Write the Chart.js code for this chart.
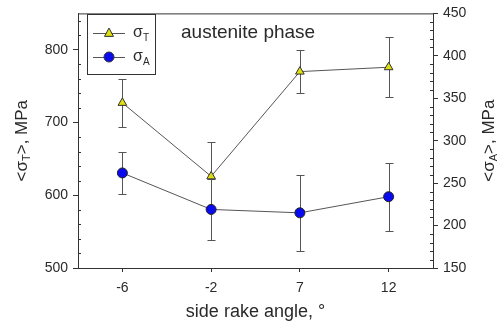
<!DOCTYPE html>
<html>
<head>
<meta charset="utf-8">
<script src="https://cdn.jsdelivr.net/npm/chart.js@4/dist/chart.umd.min.js"></script>
<style>
html,body{margin:0;padding:0;background:#fff;}
#wrap{width:498px;height:327px;}
</style>
</head>
<body>
<div id="wrap"><canvas id="c" width="498" height="327"></canvas></div>
<script>
const categories = ['-6', '-2', '7', '12'];
const sigmaT = [727, 626, 770, 776];
const sigmaTErr = [33, 47, 30, 41];
const sigmaA = [262, 219, 215, 234];
const sigmaAErr = [25, 36, 45, 40];
const leftTicks = [500, 600, 700, 800];
const rightTicks = [150, 200, 250, 300, 350, 400, 450];
const leftMinorStep = 20;
const rightMinorStep = 10;
const titleText = 'austenite phase';
const xTitleText = 'side rake angle, \u00b0';

const FONT = '"Liberation Sans", Arial, sans-serif';
const TEXT = '#2a2a2a';
const AXIS = '#333';

function drawSubLabel(ctx, parts, x, y, size) {
  let total = 0;
  const widths = parts.map(p => {
    ctx.font = (p[1] ? Math.round(size * 0.62) : size) + 'px ' + FONT;
    const w = ctx.measureText(p[0]).width;
    total += w;
    return w;
  });
  let cx = x - total / 2;
  parts.forEach((p, i) => {
    ctx.font = (p[1] ? Math.round(size * 0.62) : size) + 'px ' + FONT;
    ctx.fillText(p[0], cx, p[1] ? y + size * 0.32 : y);
    cx += widths[i];
  });
}
function drawSubLeft(ctx, parts, x, y, size) {
  let cx = x;
  parts.forEach(p => {
    ctx.font = (p[1] ? Math.round(size * 0.62) : size) + 'px ' + FONT;
    ctx.fillText(p[0], cx, p[1] ? y + size * 0.32 : y);
    cx += ctx.measureText(p[0]).width;
  });
}

const decorPlugin = {
  id: 'decor',
  beforeDatasetsDraw(chart) {
    const ctx = chart.ctx;
    const a = chart.chartArea;
    ctx.save();
    ctx.strokeStyle = AXIS;
    ctx.lineWidth = 1;
    ctx.beginPath();
    ctx.moveTo(a.left, a.top + 0.5);
    ctx.lineTo(a.right, a.top + 0.5);
    ctx.stroke();
    const yL = chart.scales.yL, yR = chart.scales.yR;
    ctx.beginPath();
    for (let v = yL.min; v <= yL.max; v += leftMinorStep) {
      if (v % 100 === 0) continue;
      const py = Math.round(yL.getPixelForValue(v)) + 0.5;
      ctx.moveTo(a.left, py); ctx.lineTo(a.left + 3, py);
    }
    for (let v = yR.min; v <= yR.max; v += rightMinorStep) {
      if (v % 50 === 0) continue;
      const py = Math.round(yR.getPixelForValue(v)) + 0.5;
      ctx.moveTo(a.right, py); ctx.lineTo(a.right - 3, py);
    }
    ctx.stroke();
    const errs = [sigmaTErr, sigmaAErr];
    ctx.strokeStyle = '#555';
    chart.data.datasets.forEach((ds, di) => {
      const meta = chart.getDatasetMeta(di);
      const sc = chart.scales[ds.yAxisID];
      meta.data.forEach((pt, i) => {
        const v = ds.data[i];
        const e = errs[di][i];
        const x = Math.round(pt.x) + 0.5;
        const y1 = Math.round(sc.getPixelForValue(v + e)) + 0.5;
        const y2 = Math.round(sc.getPixelForValue(v - e)) + 0.5;
        ctx.beginPath();
        ctx.moveTo(x, y1); ctx.lineTo(x, y2);
        ctx.moveTo(x - 4, y1); ctx.lineTo(x + 4, y1);
        ctx.moveTo(x - 4, y2); ctx.lineTo(x + 4, y2);
        ctx.stroke();
      });
    });
    ctx.restore();
  },
  afterDraw(chart) {
    const ctx = chart.ctx;
    const a = chart.chartArea;
    ctx.save();
    ctx.fillStyle = TEXT;
    ctx.textBaseline = 'middle';
    ctx.textAlign = 'left';
    ctx.font = '19px ' + FONT;
    ctx.fillText(titleText, 181, 33);
    ctx.font = '18px ' + FONT;
    ctx.textAlign = 'center';
    ctx.fillText(xTitleText, (a.left + a.right) / 2, 312);
    ctx.textAlign = 'left';
    const midY = (a.top + a.bottom) / 2;
    ctx.save();
    ctx.translate(22, midY);
    ctx.rotate(-Math.PI / 2);
    drawSubLabel(ctx, [['<\u03c3', false], ['T', true], ['>, MPa', false]], 0, 0, 17);
    ctx.restore();
    ctx.save();
    ctx.translate(489, midY);
    ctx.rotate(-Math.PI / 2);
    drawSubLabel(ctx, [['<\u03c3', false], ['A', true], ['>, MPa', false]], 0, 0, 17);
    ctx.restore();
    // legend
    ctx.strokeStyle = AXIS;
    ctx.lineWidth = 1;
    ctx.strokeRect(87.5, 14.5, 68, 60);
    const entries = [
      {y: 33, style: 'triangle', color: '#dede10', sub: 'T', r: 4.5},
      {y: 57, style: 'circle', color: '#0a0aee', sub: 'A', r: 5}
    ];
    entries.forEach(en => {
      ctx.strokeStyle = '#555';
      ctx.beginPath();
      ctx.moveTo(93, en.y + 0.5); ctx.lineTo(125, en.y + 0.5);
      ctx.stroke();
      ctx.fillStyle = en.color;
      ctx.strokeStyle = '#333';
      ctx.beginPath();
      if (en.style === 'circle') {
        ctx.arc(109, en.y, en.r, 0, Math.PI * 2);
      } else {
        const r = en.r;
        ctx.moveTo(109, en.y - r * 1.1);
        ctx.lineTo(109 + r, en.y + r * 0.75);
        ctx.lineTo(109 - r, en.y + r * 0.75);
        ctx.closePath();
      }
      ctx.fill();
      ctx.stroke();
      ctx.fillStyle = TEXT;
      drawSubLeft(ctx, [['\u03c3', false], [en.sub, true]], 133, en.y, 16);
    });
    ctx.restore();
  }
};

new Chart(document.getElementById('c'), {
  type: 'line',
  data: {
    labels: categories,
    datasets: [
      {
        label: '\u03c3T',
        data: sigmaT,
        yAxisID: 'yL',
        borderColor: '#555',
        borderWidth: 1,
        pointStyle: 'triangle',
        pointRadius: 5,
        pointBackgroundColor: '#dede10',
        pointBorderColor: '#333',
        pointBorderWidth: 1,
        tension: 0
      },
      {
        label: '\u03c3A',
        data: sigmaA,
        yAxisID: 'yR',
        borderColor: '#555',
        borderWidth: 1,
        pointStyle: 'circle',
        pointRadius: 5,
        pointBackgroundColor: '#0a0aee',
        pointBorderColor: '#222',
        pointBorderWidth: 1,
        tension: 0
      }
    ]
  },
  options: {
    responsive: false,
    animation: false,
    layout: {padding: {top: 13, left: 0, right: 0, bottom: 0}},
    plugins: {legend: {display: false}, tooltip: {enabled: false}, title: {display: false}},
    scales: {
      x: {
        type: 'category',
        offset: true,
        grid: {display: true, drawOnChartArea: false, drawTicks: true, tickLength: 4, color: AXIS},
        border: {display: true, color: AXIS},
        ticks: {color: TEXT, font: {size: 14, family: FONT}, padding: 8, maxRotation: 0},
        afterFit(s) { s.height = 59; }
      },
      yL: {
        type: 'linear',
        position: 'left',
        min: 500,
        max: 850,
        afterBuildTicks(s) { s.ticks = leftTicks.map(v => ({value: v})); },
        grid: {display: true, drawOnChartArea: false, drawTicks: true, tickLength: 5, color: AXIS},
        border: {display: true, color: AXIS},
        ticks: {color: TEXT, font: {size: 14, family: FONT}, padding: 5},
        afterFit(s) { s.width = 78; }
      },
      yR: {
        type: 'linear',
        position: 'right',
        min: 150,
        max: 450,
        afterBuildTicks(s) { s.ticks = rightTicks.map(v => ({value: v})); },
        grid: {display: true, drawOnChartArea: false, drawTicks: true, tickLength: 5, color: AXIS},
        border: {display: true, color: AXIS},
        ticks: {color: TEXT, font: {size: 14, family: FONT}, padding: 5},
        afterFit(s) { s.width = 65; }
      }
    }
  },
  plugins: [decorPlugin]
});
</script>
</body>
</html>
